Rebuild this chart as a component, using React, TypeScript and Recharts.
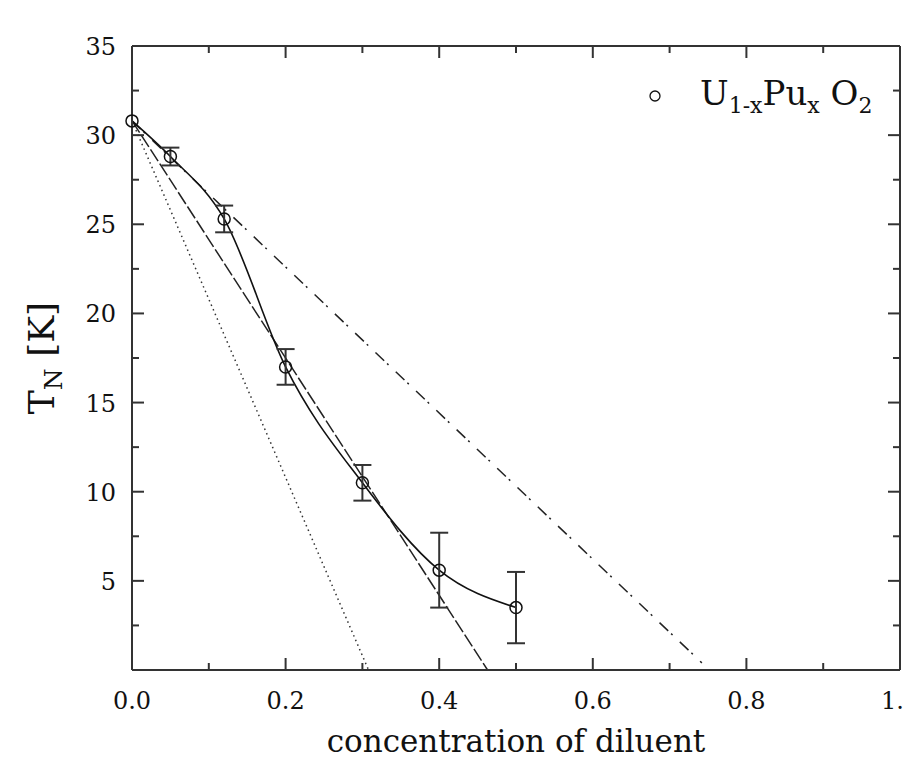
import React from "react";
import {
  ComposedChart,
  ErrorBar,
  Legend,
  Line,
  Scatter,
  XAxis,
  YAxis,
} from "recharts";

// measured T_N for U(1-x)Pu(x)O2
const concentration = [0, 0.05, 0.12, 0.2, 0.3, 0.4, 0.5];
const tnValues = [30.8, 28.8, 25.3, 17.0, 10.5, 5.6, 3.5];
const tnErrors = [0, 0.5, 0.75, 1.0, 1.0, 2.1, 2.0];

// straight model lines (start / end points)
const dottedX = [0, 0.308];
const dottedY = [30.8, 0];
const dashedX = [0, 0.463];
const dashedY = [30.8, 0];
const dashDotX = [0, 0.742];
const dashDotY = [30.8, 0.4];

const xTicks = [0, 0.1, 0.2, 0.3, 0.4, 0.5, 0.6, 0.7, 0.8, 0.9, 1.0];
const yTicks = [0, 2.5, 5, 7.5, 10, 12.5, 15, 17.5, 20, 22.5, 25, 27.5, 30, 32.5, 35];

const FONT = "'DejaVu Serif', serif";
const AXIS = "#333";
const INK = "#111";

const points = concentration.map((x, i) => ({ x, y: tnValues[i], err: tnErrors[i] }));
const toLine = (xs: number[], ys: number[]) => xs.map((x, i) => ({ x, y: ys[i] }));

const isMajorX = (v: number) => Math.round(v * 10) % 2 === 0;
const isMajorY = (v: number) => Math.round(v * 10) % 50 === 0;

const BottomTick = (props: any) => {
  const { x, y, payload } = props;
  const v = payload.value;
  const major = isMajorX(v);
  return (
    <g>
      <line x1={x} x2={x} y1={y} y2={y - (major ? 12 : 7)} stroke={AXIS} strokeWidth={2} />
      {major && (
        <text x={x} y={y + 39} textAnchor="middle" fontFamily={FONT} fontSize={24} fill={INK}>
          {v.toFixed(1)}
        </text>
      )}
    </g>
  );
};

// frame ticks (top / right) point inwards, no labels
const TopTick = (props: any) => {
  const { x, y, payload } = props;
  const major = isMajorX(payload.value);
  return <line x1={x} x2={x} y1={y} y2={y + (major ? 12 : 7)} stroke={AXIS} strokeWidth={2} />;
};

const LeftTick = (props: any) => {
  const { x, y, payload } = props;
  const v = payload.value;
  const major = isMajorY(v);
  return (
    <g>
      <line x1={x} x2={x + (major ? 12 : 7)} y1={y} y2={y} stroke={AXIS} strokeWidth={2} />
      {major && v > 0 && (
        <text x={x - 16} y={y + 9} textAnchor="end" fontFamily={FONT} fontSize={24} fill={INK}>
          {v}
        </text>
      )}
    </g>
  );
};

const RightTick = (props: any) => {
  const { x, y, payload } = props;
  const major = isMajorY(payload.value);
  return <line x1={x} x2={x - (major ? 12 : 7)} y1={y} y2={y} stroke={AXIS} strokeWidth={2} />;
};

const XTitle = (props: any) => {
  const { x, y, width } = props.viewBox;
  return (
    <text x={x + width / 2} y={y + 82} textAnchor="middle" fontFamily={FONT} fontSize={31} fill={INK}>
      concentration of diluent
    </text>
  );
};

const YTitle = (props: any) => {
  const { y, height } = props.viewBox;
  return (
    <text
      transform={`translate(54, ${y + height / 2}) rotate(-90)`}
      textAnchor="middle"
      fontFamily={FONT}
      fontSize={36}
      fill={INK}
    >
      T
      <tspan fontSize={25} dy={8}>N</tspan>
      <tspan dy={-8}> [K]</tspan>
    </text>
  );
};

const sub = { fontSize: 22, position: "relative" as const, top: 8 };

const renderLegend = () => (
  <div style={{ display: "flex", alignItems: "center", fontFamily: FONT, fontSize: 34, lineHeight: "40px", color: INK }}>
    <svg width={14} height={14}>
      <circle cx={7} cy={7} r={5} fill="none" stroke={INK} strokeWidth={1.3} />
    </svg>
    <span style={{ marginLeft: 38, whiteSpace: "nowrap" }}>
      U<span style={sub}>1-x</span>Pu<span style={sub}>x</span> O<span style={sub}>2</span>
    </span>
  </div>
);

const Circle = (props: any) => {
  const { cx, cy } = props;
  return <circle cx={cx} cy={cy} r={6} fill="none" stroke={INK} strokeWidth={1.5} />;
};

export default function App() {
  return (
    <div style={{ position: "absolute", left: 0, top: 0, width: 903, height: 758, overflow: "hidden", background: "#fff" }}>
      <style>{"html,body{margin:0;overflow:hidden}"}</style>
      <ComposedChart width={903} height={758} margin={{ top: 45, right: 2, bottom: 0, left: 0 }}>
        <XAxis
          dataKey="x"
          type="number"
          domain={[0, 1]}
          ticks={xTicks}
          interval={0}
          height={88}
          tickSize={0}
          tickMargin={0}
          tickLine={false}
          axisLine={{ stroke: AXIS, strokeWidth: 2 }}
          tick={<BottomTick />}
          label={<XTitle />}
        />
        <XAxis
          xAxisId="top"
          orientation="top"
          dataKey="x"
          type="number"
          domain={[0, 1]}
          ticks={xTicks}
          interval={0}
          height={1}
          tickSize={0}
          tickMargin={0}
          tickLine={false}
          axisLine={{ stroke: AXIS, strokeWidth: 2 }}
          tick={<TopTick />}
        />
        <YAxis
          type="number"
          domain={[0, 35]}
          ticks={yTicks}
          interval={0}
          width={132}
          tickSize={0}
          tickMargin={0}
          tickLine={false}
          axisLine={{ stroke: AXIS, strokeWidth: 2 }}
          tick={<LeftTick />}
          label={<YTitle />}
        />
        <YAxis
          yAxisId="right"
          orientation="right"
          type="number"
          domain={[0, 35]}
          ticks={yTicks}
          interval={0}
          width={1}
          tickSize={0}
          tickMargin={0}
          tickLine={false}
          axisLine={{ stroke: AXIS, strokeWidth: 2 }}
          tick={<RightTick />}
        />
        <Legend
          content={renderLegend}
          layout="vertical"
          align="center"
          verticalAlign="middle"
          wrapperStyle={{ top: 73, left: 648, width: 255 }}
        />
        {/* invisible series tied to the frame axes */}
        <Line
          xAxisId="top"
          yAxisId="right"
          data={points}
          dataKey="y"
          stroke="none"
          dot={false}
          legendType="none"
          isAnimationActive={false}
        />
        <Line
          data={toLine(dottedX, dottedY)}
          dataKey="y"
          type="linear"
          stroke="#333"
          strokeWidth={1.5}
          strokeDasharray="1.5 3.5"
          dot={false}
          isAnimationActive={false}
        />
        <Line
          data={toLine(dashedX, dashedY)}
          dataKey="y"
          type="linear"
          stroke="#222"
          strokeWidth={1.5}
          strokeDasharray="14 3"
          dot={false}
          isAnimationActive={false}
        />
        <Line
          data={toLine(dashDotX, dashDotY)}
          dataKey="y"
          type="linear"
          stroke="#222"
          strokeWidth={1.5}
          strokeDasharray="12 4 2 10"
          dot={false}
          isAnimationActive={false}
        />
        <Line
          data={points}
          dataKey="y"
          type="monotone"
          stroke={INK}
          strokeWidth={1.6}
          dot={false}
          isAnimationActive={false}
        />
        <Scatter data={points} dataKey="y" shape={<Circle />} isAnimationActive={false}>
          <ErrorBar dataKey="err" direction="y" width={9} stroke="#333" strokeWidth={2} isAnimationActive={false} />
        </Scatter>
      </ComposedChart>
    </div>
  );
}
